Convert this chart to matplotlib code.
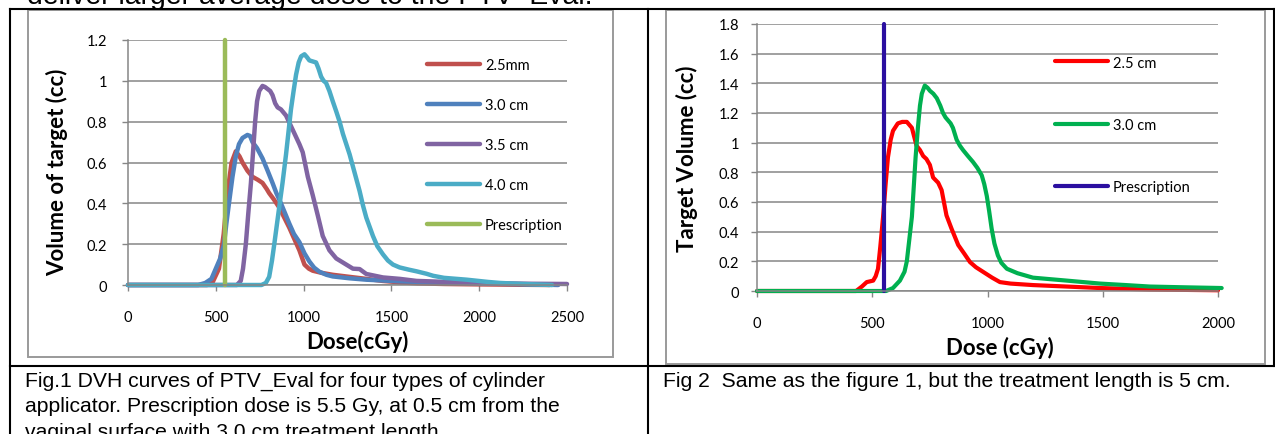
import numpy as np
import matplotlib
matplotlib.use('Agg')
import matplotlib.pyplot as plt
from matplotlib.lines import Line2D
from matplotlib.patches import Rectangle
from matplotlib.ticker import FuncFormatter

# ---- data (dose in cGy, volume in cc) ----
# Fig.1, treatment length 3.0 cm
dose_25mm = [0, 450, 480, 518, 545, 566, 590, 614, 635, 652, 680, 709, 740, 766, 790, 804, 830, 861, 890,
             919, 950, 976, 1005, 1030, 1052, 1100, 1166, 1260, 1357, 1450, 1550, 1650, 1800, 2000, 2400]
vol_25mm = [0, 0, 0.01, 0.08, 0.25, 0.45, 0.6, 0.655, 0.63, 0.60, 0.56, 0.53, 0.515, 0.50, 0.47, 0.45, 0.42,
            0.38, 0.33, 0.28, 0.22, 0.17, 0.10, 0.08, 0.07, 0.06, 0.05, 0.04, 0.03, 0.02, 0.013, 0.008,
            0.005, 0.003, 0]

dose_30cm = [0, 400, 440, 475, 500, 525, 547, 560, 575, 595, 614, 632, 652, 680, 695, 709, 735, 766, 795,
             823, 845, 871, 895, 919, 945, 976, 1005, 1033, 1060, 1090, 1130, 1166, 1260, 1357, 1547,
             1700, 1929, 2100, 2300, 2450]
vol_30cm = [0, 0, 0.01, 0.03, 0.08, 0.13, 0.2, 0.3, 0.4, 0.53, 0.63, 0.69, 0.72, 0.735, 0.73, 0.70, 0.67,
            0.62, 0.56, 0.50, 0.45, 0.40, 0.35, 0.30, 0.25, 0.21, 0.155, 0.115, 0.085, 0.065, 0.05,
            0.042, 0.033, 0.026, 0.018, 0.014, 0.01, 0.006, 0.003, 0]

dose_35cm = [0, 620, 642, 655, 671, 685, 700, 712, 724, 735, 747, 766, 780, 795, 810, 823, 838, 852, 871,
             900, 938, 976, 995, 1024, 1052, 1081, 1109, 1147, 1186, 1243, 1281, 1319, 1357, 1452,
             1548, 1643, 1750, 1930, 2100, 2300, 2500]
vol_35cm = [0, 0, 0.02, 0.08, 0.2, 0.35, 0.5, 0.65, 0.8, 0.9, 0.95, 0.975, 0.97, 0.96, 0.95, 0.93, 0.89,
            0.87, 0.86, 0.83, 0.76, 0.69, 0.65, 0.53, 0.44, 0.34, 0.24, 0.17, 0.13, 0.10, 0.08, 0.078,
            0.054, 0.037, 0.03, 0.02, 0.017, 0.01, 0.008, 0.006, 0.005]

dose_40cm = [0, 760, 785, 804, 820, 833, 847, 861, 880, 900, 914, 928, 943, 957, 972, 986, 1005, 1020,
             1033, 1052, 1071, 1085, 1100, 1114, 1128, 1147, 1166, 1186, 1205, 1224, 1243, 1262, 1281,
             1300, 1319, 1338, 1357, 1376, 1395, 1420, 1452, 1480, 1509, 1547, 1600, 1643, 1700, 1738,
             1800, 1929, 2050, 2119, 2250, 2415]
vol_40cm = [0, 0, 0.01, 0.04, 0.12, 0.2, 0.29, 0.38, 0.5, 0.64, 0.75, 0.86, 0.95, 1.03, 1.09, 1.12, 1.13,
            1.115, 1.10, 1.095, 1.09, 1.06, 1.02, 1.0, 0.99, 0.95, 0.90, 0.85, 0.80, 0.74, 0.69, 0.64,
            0.58, 0.52, 0.46, 0.39, 0.33, 0.285, 0.24, 0.19, 0.15, 0.12, 0.10, 0.086, 0.075, 0.067,
            0.055, 0.045, 0.035, 0.026, 0.015, 0.01, 0.005, 0]

# Fig 2, treatment length 5 cm
dose_25cm_b = [0, 430, 455, 476, 504, 515, 525, 535, 547, 558, 568, 580, 590, 611, 630, 650, 661, 672, 682,
               692, 707, 721, 735, 750, 764, 786, 801, 822, 844, 873, 900, 924, 950, 980, 1020, 1054,
               1100, 1197, 1344, 1488, 1704, 2000]
vol_25cm_b = [0, 0, 0.03, 0.06, 0.07, 0.1, 0.15, 0.3, 0.5, 0.72, 0.9, 1.02, 1.08, 1.13, 1.14, 1.14, 1.12,
              1.1, 1.04, 0.98, 0.95, 0.91, 0.89, 0.85, 0.765, 0.73, 0.68, 0.51, 0.42, 0.31, 0.25, 0.195,
              0.16, 0.13, 0.09, 0.06, 0.05, 0.04, 0.03, 0.02, 0.01, 0.005]

dose_30cm_b = [0, 560, 590, 620, 640, 650, 661, 672, 680, 688, 698, 707, 715, 728, 740, 750, 765, 780, 795,
               807, 818, 829, 840, 850, 866, 880, 894, 915, 937, 956, 975, 986, 997, 1007, 1018, 1030,
               1045, 1060, 1084, 1130, 1197, 1270, 1344, 1488, 1600, 1704, 1850, 2016]
vol_30cm_b = [0, 0, 0.02, 0.07, 0.13, 0.2, 0.35, 0.5, 0.7, 0.9, 1.1, 1.25, 1.33, 1.385, 1.37, 1.35, 1.33,
              1.3, 1.25, 1.2, 1.17, 1.15, 1.13, 1.1, 1.02, 0.98, 0.95, 0.91, 0.87, 0.83, 0.78, 0.72, 0.64,
              0.54, 0.42, 0.32, 0.24, 0.19, 0.15, 0.12, 0.09, 0.08, 0.07, 0.05, 0.04, 0.03, 0.025, 0.02]

prescription_dose = 550

W, H = 1275, 435
fig = plt.figure(figsize=(W / 100, H / 100), dpi=100)


def px_box(x0, y0, x1, y1):
    return [x0 / W, 1 - y1 / H, (x1 - x0) / W, (y1 - y0) / H]


def fx(x):
    return x / W


def fy(y):
    return 1 - y / H


tick_font = dict(family=['Lato', 'DejaVu Sans'], size=10.5)
label_font = dict(family=['Lato', 'DejaVu Sans'], size=16, weight='bold')
legend_font = dict(family=['Lato', 'DejaVu Sans'], size=10.5)
arial = ['Liberation Sans', 'DejaVu Sans']
grid_grey = '#868686'

# ---- document table lines and chart frames ----
for xs, ys in [([10, 1275], [10, 10]), ([10, 10], [10, 435]), ([648, 648], [10, 435]),
               ([1274, 1274], [10, 367]), ([10, 1275], [367, 367])]:
    fig.add_artist(Line2D([fx(v) for v in xs], [fy(v) for v in ys], color='black', lw=1.5))
for x0, y0, x1, y1 in [(28, 11, 613, 358), (666, 11, 1265, 365)]:
    fig.add_artist(Rectangle((fx(x0), fy(y1)), (x1 - x0) / W, (y1 - y0) / H,
                             fill=False, edgecolor='#9a9a9a', lw=1.4))

fig.text(fx(27), fy(4.5), 'deliver larger average dose to the PTV_Eval.', family=arial, size=20.4,
         va='baseline', ha='left')


def style_axes(ax, xmax, ymax, ytick_pad):
    ax.set_xlim(0, xmax)
    ax.set_ylim(0, ymax)
    ax.set_xticks(np.arange(0, xmax + 1, 500))
    ax.set_yticks(np.arange(0, ymax + 1e-9, 0.2))
    ax.yaxis.set_major_formatter(FuncFormatter(lambda v, p: '%g' % round(v, 1)))
    ax.grid(axis='y', color=grid_grey, lw=1.1)
    ax.set_axisbelow(True)
    for s in ['top', 'right']:
        ax.spines[s].set_visible(False)
    for s in ['left', 'bottom']:
        ax.spines[s].set_color(grid_grey)
        ax.spines[s].set_linewidth(1.1)
    ax.tick_params(axis='x', direction='out', length=4, width=1, color=grid_grey, pad=14)
    ax.tick_params(axis='y', direction='out', length=4, width=1, color=grid_grey, pad=ytick_pad)
    for lab in ax.get_xticklabels() + ax.get_yticklabels():
        lab.set_fontfamily(tick_font['family'])
        lab.set_fontsize(tick_font['size'])


# ---- Fig.1 ----
ax1 = fig.add_axes(px_box(128, 41, 567, 286))
style_axes(ax1, 2500, 1.2, 11)
lw1 = 3.2
for d, v, c, lab in [(dose_25mm, vol_25mm, '#C0504D', '2.5mm'),
                     (dose_30cm, vol_30cm, '#4F81BD', '3.0 cm'),
                     (dose_35cm, vol_35cm, '#8064A2', '3.5 cm'),
                     (dose_40cm, vol_40cm, '#4BACC6', '4.0 cm')]:
    ax1.plot(d, v, color=c, lw=lw1, label=lab, clip_on=False,
             solid_capstyle='round', solid_joinstyle='round')
ax1.plot([prescription_dose, prescription_dose], [0, 1.2], color='#9BBB59', lw=lw1,
         label='Prescription', clip_on=False, solid_capstyle='round')
ax1.set_xlabel('Dose(cGy)', fontdict=label_font)
ax1.xaxis.set_label_coords((357 - 128) / (567 - 128), (286 - 342) / (286 - 41))
ax1.xaxis.label.set_va('center')
fig.text(fx(57), fy(172), 'Volume of target (cc)', rotation=90, ha='center', va='center', **label_font)
ax1.legend(loc='upper left', bbox_to_anchor=(fx(427), fy(59.5)), bbox_transform=fig.transFigure,
           frameon=False, borderpad=0, borderaxespad=0, handlelength=3.63, handletextpad=0.34,
           labelspacing=1.78, prop=legend_font)

# ---- Fig 2 ----
ax2 = fig.add_axes(px_box(757, 25, 1218, 292))
style_axes(ax2, 2000, 1.8, 9)
lw2 = 3.0
ax2.plot(dose_25cm_b, vol_25cm_b, color='#FF0000', lw=lw2, label='2.5 cm', clip_on=False,
         solid_capstyle='round', solid_joinstyle='round')
ax2.plot(dose_30cm_b, vol_30cm_b, color='#00B050', lw=lw2, label='3.0 cm', clip_on=False,
         solid_capstyle='round', solid_joinstyle='round')
ax2.plot([prescription_dose, prescription_dose], [0, 1.8], color='#2B0FA0', lw=lw2,
         label='Prescription', clip_on=False, solid_capstyle='round')
ax2.set_xlabel('Dose (cGy)', fontdict=label_font)
ax2.xaxis.set_label_coords((1000 - 757) / (1218 - 757), (292 - 348) / (292 - 25))
ax2.xaxis.label.set_va('center')
fig.text(fx(687), fy(159), 'Target Volume (cc)', rotation=90, ha='center', va='center', **label_font)
ax2.legend(loc='upper left', bbox_to_anchor=(fx(1055), fy(56.5)), bbox_transform=fig.transFigure,
           frameon=False, borderpad=0, borderaxespad=0, handlelength=3.63, handletextpad=0.34,
           labelspacing=3.3, prop=legend_font)

# ---- captions ----
cap1 = ['Fig.1 DVH curves of PTV_Eval for four types of cylinder',
        'applicator. Prescription dose is 5.5 Gy, at 0.5 cm from the',
        'vaginal surface with 3.0 cm treatment length.']
for i, line in enumerate(cap1):
    fig.text(fx(25), fy(387 + 25.5 * i), line, family=arial, size=15.2, va='baseline', ha='left')
fig.text(fx(663), fy(387), 'Fig 2  Same as the figure 1, but the treatment length is 5 cm.',
         family=arial, size=15.2, va='baseline', ha='left')

fig.savefig('out.png', dpi=100)
